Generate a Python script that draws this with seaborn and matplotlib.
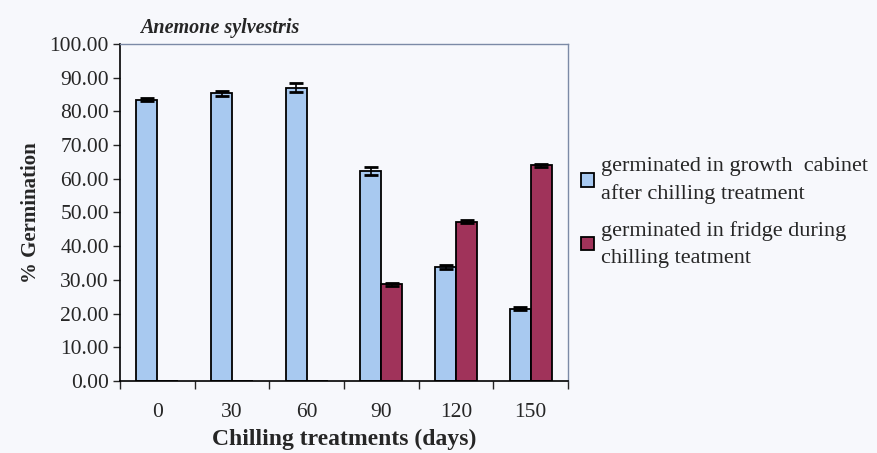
import numpy as np
import pandas as pd
import matplotlib
matplotlib.use("Agg")
import matplotlib.pyplot as plt
import seaborn as sns

days = ["0", "30", "60", "90", "120", "150"]
cabinet = [83.5, 85.3, 87.0, 62.2, 33.8, 21.5]
cabinet_err = [0.5, 0.6, 1.3, 1.2, 0.5, 0.4]
fridge = [0.0, 0.0, 0.0, 28.7, 47.3, 64.0]
fridge_err = [0.0, 0.0, 0.0, 0.4, 0.5, 0.5]
labels = ["germinated in growth  cabinet\nafter chilling treatment",
          "germinated in fridge during\nchilling teatment"]

sns.set_style("white")
plt.rcParams['font.family'] = ['Liberation Serif', 'DejaVu Serif']

df = pd.DataFrame({
    "days": days * 2,
    "pct": cabinet + fridge,
    "err": cabinet_err + fridge_err,
    "group": [labels[0]] * 6 + [labels[1]] * 6,
})

bg = "#f7f8fc"
fig = plt.figure(figsize=(8.77, 4.53), dpi=100, facecolor=bg)
ax = fig.add_axes([0.1368, 0.159, 0.511, 0.744], facecolor=bg)

sns.barplot(data=df, x="days", y="pct", hue="group", order=days,
            hue_order=labels, palette=["#a8c9f0", "#a0335a"], saturation=1,
            width=0.56, errorbar=None, edgecolor="black", linewidth=1.3,
            ax=ax)

# error bars on top of each bar (patches come hue by hue)
bars = [p for p in ax.patches if p.get_width() > 0][:12]
for p, e in zip(bars, df["err"]):
    if e > 0:
        ax.errorbar(p.get_x() + p.get_width() / 2, p.get_height(), yerr=e,
                    fmt="none", ecolor="black", elinewidth=1.2, capsize=5,
                    capthick=2)

ax.set_ylim(0, 100)
ax.set_xlim(-0.5, 5.5)
ax.set_yticks(np.arange(0, 101, 10))
ax.set_yticklabels([f"{v:.2f}" for v in np.arange(0, 101, 10)], fontsize=15.5)
ax.tick_params(axis="y", direction="out", length=5, width=1, left=True, pad=3)
ax.set_xticks(range(6))
ax.set_xticklabels(days, fontsize=15.5)
ax.tick_params(axis="x", which="major", length=0, pad=16)
ax.set_xticks(np.arange(-0.5, 6, 1), minor=True)
ax.tick_params(axis="x", which="minor", direction="out", length=6, width=1,
               bottom=True)

for s in ["left", "bottom"]:
    ax.spines[s].set_color("black")
    ax.spines[s].set_linewidth(1.2)
for s in ["top", "right"]:
    ax.spines[s].set_color("#7c8aa6")
    ax.spines[s].set_linewidth(1.0)

ax.set_xlabel("Chilling treatments (days)", fontsize=17, fontweight="bold",
              labelpad=5)
ax.set_ylabel("% Germination", fontsize=15, fontweight="bold", labelpad=6)
ax.set_title("Anemone sylvestris", fontsize=14.5, fontstyle="italic",
             fontweight="bold", loc="left", x=0.045, pad=8)

handles, _ = ax.get_legend_handles_labels()
leg = ax.legend(handles, labels, loc="center left",
                bbox_to_anchor=(1.01, 0.5), frameon=False, fontsize=16,
                handlelength=0.55, handleheight=0.55, handletextpad=0.35,
                labelspacing=0.75, borderaxespad=0)
for t in leg.get_texts():
    t.set_linespacing(1.55)

fig.savefig("out.png", dpi=100, facecolor=bg)
